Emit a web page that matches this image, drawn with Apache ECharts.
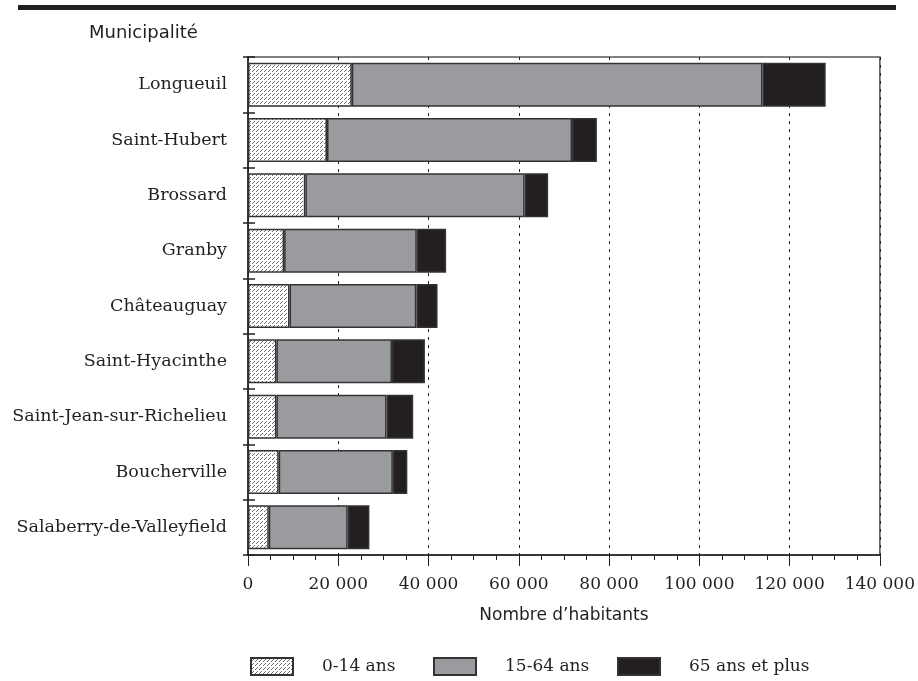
<!DOCTYPE html>
<html>
<head>
<meta charset="utf-8">
<script src="https://cdn.jsdelivr.net/npm/echarts@6/dist/echarts.min.js"></script>
<style>html,body{margin:0;padding:0;background:#fff}#c{width:918px;height:681px}</style>
</head>
<body>
<div id="c"></div>
<script>
// Data
const municipalities = ["Longueuil","Saint-Hubert","Brossard","Granby","Châteauguay","Saint-Hyacinthe","Saint-Jean-sur-Richelieu","Boucherville","Salaberry-de-Valleyfield"];
const age0_14  = [23000, 17500, 12700, 8000, 9200, 6300, 6300, 6800, 4600];
const age15_64 = [91000, 54300, 48600, 29400, 28100, 25600, 24400, 25300, 17500];
const age65p   = [14000, 5500, 5200, 6500, 4700, 7300, 5900, 3200, 4800];
const seriesNames = ["0-14 ans", "15-64 ans", "65 ans et plus"];
const xTicks = [0, 20000, 40000, 60000, 80000, 100000, 120000, 140000];

// hatch pattern (dashed diagonal lines)
const pc = document.createElement('canvas');
pc.width = 8; pc.height = 8;
const g = pc.getContext('2d');
g.fillStyle = '#ffffff'; g.fillRect(0, 0, 8, 8);
g.fillStyle = '#707070';
for (let i = 0; i < 8; i++) {
  if (i % 4 === 3) continue;
  g.fillRect(i, 7 - i, 1, 1);
  g.fillRect((i + 4) % 8, 7 - i, 1, 1);
}
const hatch = { image: pc, repeat: 'repeat' };

const TXT = '#231f20';
const serif = '"DejaVu Serif", "Liberation Serif", serif';
const sans = '"DejaVu Sans", "Liberation Sans", sans-serif';

const chart = echarts.init(document.getElementById('c'), null, { renderer: 'canvas' });
const fmt = v => {
  if (v === 0) return '0';
  return String(v).replace(/\B(?=(\d{3})+(?!\d))/g, ' ');
};
const mkLegend = (name, left) => ({
  data: [name], left: left, top: 657, orient: 'horizontal', padding: 0,
  itemWidth: 42, itemHeight: 17, icon: 'rect',
  textStyle: { fontFamily: serif, fontSize: 17, color: TXT, padding: [0, 0, 0, 24] },
  selectedMode: false
});
const barStyle = (color) => ({ color: color, borderColor: '#333', borderWidth: 1.5 });

chart.setOption({
  animation: false,
  backgroundColor: '#fff',
  graphic: [
    { type: 'rect', shape: { x: 18, y: 5, width: 878, height: 5 }, style: { fill: '#231f20' } },
    { type: 'text', left: 89, top: 24, style: { text: 'Municipalité', font: '18px ' + sans, fill: TXT } }
  ],
  grid: { left: 248, right: 38, top: 57, bottom: 126, show: true, borderColor: '#555', borderWidth: 1.5, backgroundColor: 'transparent' },
  legend: [mkLegend(seriesNames[0], 250), mkLegend(seriesNames[1], 433), mkLegend(seriesNames[2], 617)],
  xAxis: {
    type: 'value', min: xTicks[0], max: xTicks[xTicks.length - 1], interval: 20000,
    name: 'Nombre d’habitants', nameLocation: 'middle', nameGap: 52,
    nameTextStyle: { fontFamily: sans, fontSize: 17, color: TXT },
    axisLine: { show: true, lineStyle: { color: '#222', width: 1.5 } },
    axisTick: { show: true, length: 11, lineStyle: { color: '#222', width: 1 } },
    minorTick: { show: true, splitNumber: 4, length: 5, lineStyle: { color: '#222', width: 1 } },
    axisLabel: { fontFamily: serif, fontSize: 17, color: TXT, margin: 21, formatter: fmt },
    splitLine: { show: true, lineStyle: { color: '#222', width: 1, type: [3, 5] } }
  },
  yAxis: [
    {
      type: 'category', data: municipalities, inverse: true,
      axisLine: { show: true, lineStyle: { color: '#222', width: 1.5 } },
      axisTick: { show: true, length: 5, interval: 0, lineStyle: { color: '#222', width: 1.5 } },
      axisLabel: { fontFamily: serif, fontSize: 17.5, color: TXT, margin: 21 },
      splitLine: { show: false }
    },
    {
      type: 'category', data: municipalities, inverse: true, position: 'left',
      axisLine: { show: false },
      axisTick: { show: true, inside: true, length: 7, interval: 0, lineStyle: { color: '#222', width: 1.5 } },
      axisLabel: { show: false }, splitLine: { show: false }
    }
  ],
  series: [
    { name: seriesNames[0], type: 'bar', stack: 'a', data: age0_14, barWidth: 44, itemStyle: barStyle(hatch) },
    { name: seriesNames[1], type: 'bar', stack: 'a', data: age15_64, barWidth: 44, itemStyle: barStyle('#9a9b9f') },
    { name: seriesNames[2], type: 'bar', stack: 'a', data: age65p, barWidth: 44, itemStyle: barStyle('#231f20') }
  ]
});
</script>
</body>
</html>
